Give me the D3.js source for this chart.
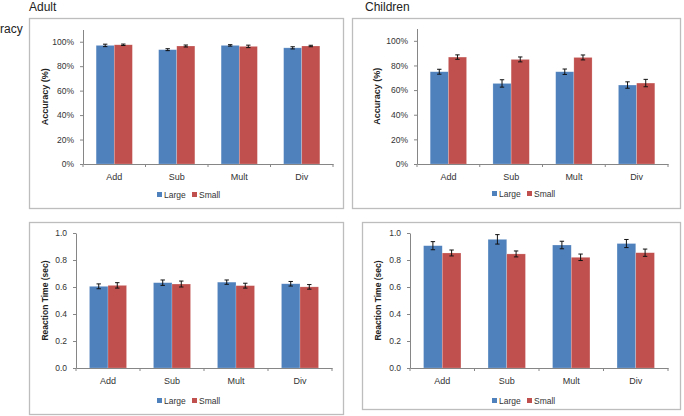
<!DOCTYPE html>
<html><head><meta charset="utf-8">
<script src="https://cdn.jsdelivr.net/npm/d3@7"></script>
<style>
body{margin:0;background:#fff;}
text{font-family:"Liberation Sans",Arial,sans-serif;}
</style></head>
<body><svg id="c" width="684" height="416"></svg>
<script>
const categories = ["Add","Sub","Mult","Div"];
const seriesNames = ["Large","Small"];
const colors = ["#4f81bd","#c0504d"];

const adultAccLarge = [0.970,0.935,0.970,0.950];
const adultAccSmall = [0.975,0.965,0.962,0.965];
const adultAccErrL  = [0.010,0.008,0.006,0.009];
const adultAccErrS  = [0.006,0.008,0.010,0.006];

const childAccLarge = [0.749,0.654,0.749,0.641];
const childAccSmall = [0.868,0.849,0.865,0.657];
const childAccErrL  = [0.020,0.030,0.022,0.026];
const childAccErrS  = [0.018,0.020,0.020,0.030];

const adultRtLarge = [0.605,0.632,0.636,0.624];
const adultRtSmall = [0.612,0.622,0.610,0.601];
const adultRtErrL  = [0.018,0.020,0.016,0.017];
const adultRtErrS  = [0.020,0.022,0.018,0.017];

const childRtLarge = [0.906,0.953,0.911,0.922];
const childRtSmall = [0.852,0.845,0.820,0.854];
const childRtErrL  = [0.030,0.035,0.028,0.030];
const childRtErrS  = [0.022,0.022,0.024,0.027];

const accTicks = [0,0.2,0.4,0.6,0.8,1.0];
const rtTicks = [0,0.2,0.4,0.6,0.8,1.0];

const svg = d3.select("#c");

svg.append("text").attr("x",29).attr("y",11).attr("font-size",12).attr("fill","#222").text("Adult");
svg.append("text").attr("x",365).attr("y",11).attr("font-size",12).attr("fill","#222").text("Children");
svg.append("text").attr("x",0).attr("y",33).attr("font-size",12).attr("fill","#222").text("racy");

function panel(o){
  const g = svg.append("g");
  g.append("rect").attr("x",o.fx+0.5).attr("y",o.fy+0.5).attr("width",o.fw).attr("height",o.fh)
    .attr("fill","#fff").attr("stroke","#bdbdbd").attr("stroke-width",1.3);
  const x = d3.scaleBand().domain(categories).range([o.x0,o.x1]).paddingInner(0.42).paddingOuter(0.21);
  const xs = d3.scaleBand().domain(seriesNames).range([0,x.bandwidth()]);
  const y = d3.scaleLinear().domain(o.domain).range([o.y0,o.yTop]);
  const vals=[o.large,o.small], errs=[o.errL,o.errS];
  seriesNames.forEach((s,si)=>{
    g.selectAll(null).data(categories).enter().append("rect")
      .attr("x",c=>x(c)+xs(s)).attr("width",xs.bandwidth())
      .attr("y",(c,i)=>y(vals[si][i])).attr("height",(c,i)=>y(0)-y(vals[si][i]))
      .attr("fill",colors[si]).attr("stroke","rgba(255,255,255,0.35)").attr("stroke-width",0.6);
    categories.forEach((c,i)=>{
      const cx = x(c)+xs(s)+xs.bandwidth()/2;
      const v = vals[si][i], e = errs[si][i];
      g.append("line").attr("x1",cx).attr("x2",cx).attr("y1",y(v-e)).attr("y2",y(v+e)).attr("stroke","#111").attr("stroke-width",1);
      [v-e,v+e].forEach(t=>g.append("line").attr("x1",cx-2.2).attr("x2",cx+2.2).attr("y1",y(t)).attr("y2",y(t)).attr("stroke","#111").attr("stroke-width",1));
    });
  });
  const ya = g.append("g").attr("transform",`translate(${o.x0},0)`)
    .call(d3.axisLeft(y).tickValues(o.ticks).tickFormat(o.fmt).tickSize(3).tickSizeOuter(0));
  ya.select(".domain").attr("stroke","#868686");
  ya.selectAll(".tick line").attr("stroke","#868686");
  ya.selectAll("text").attr("font-size",8.5).attr("fill","#333").attr("dx","-3");
  const xa = g.append("g").attr("transform",`translate(0,${o.y0})`)
    .call(d3.axisBottom(x).tickSize(0).tickSizeOuter(0));
  xa.select(".domain").attr("stroke","#868686");
  xa.selectAll("text").attr("font-size",9).attr("fill","#333").attr("dy","1.4em");
  const bounds = d3.range(categories.length+1).map(i=>o.x0+i*(o.x1-o.x0)/categories.length);
  g.selectAll(null).data(bounds).enter().append("line")
    .attr("x1",d=>d).attr("x2",d=>d).attr("y1",o.y0).attr("y2",o.y0+3).attr("stroke","#868686");
  g.append("text").attr("transform",`translate(${o.lx},${(o.y0+o.yTop)/2}) rotate(-90)`)
    .attr("text-anchor","middle").attr("font-size",o.lfs).attr("font-weight","bold").attr("fill","#222").text(o.ylabel);
  const lg = g.append("g").attr("transform",`translate(${o.legX},${o.legY})`);
  seriesNames.forEach((s,i)=>{
    const off = i*35;
    lg.append("rect").attr("x",off).attr("y",-3).attr("width",5).attr("height",5).attr("fill",colors[i]);
    lg.append("text").attr("x",off+7).attr("y",2.5).attr("font-size",8.5).attr("fill","#333").text(s);
  });
}

const pct = d3.format(".0%"), one = d3.format(".1f");

panel({fx:29,fy:18,fw:314,fh:190,x0:83,x1:333,y0:164,yTop:29.5,domain:[0,1.1],ticks:accTicks,fmt:pct,
  large:adultAccLarge,small:adultAccSmall,errL:adultAccErrL,errS:adultAccErrS,lx:48,lfs:9,ylabel:"Accuracy (%)",legX:157,legY:195});
panel({fx:352,fy:18,fw:328,fh:190,x0:417,x1:668,y0:164,yTop:28.5,domain:[0,1.1],ticks:accTicks,fmt:pct,
  large:childAccLarge,small:childAccSmall,errL:childAccErrL,errS:childAccErrS,lx:380,lfs:9,ylabel:"Accuracy (%)",legX:492,legY:194});
panel({fx:29,fy:222,fw:314,fh:192,x0:76,x1:332,y0:368,yTop:233,domain:[0,1.0],ticks:rtTicks,fmt:one,
  large:adultRtLarge,small:adultRtSmall,errL:adultRtErrL,errS:adultRtErrS,lx:48,lfs:8.5,ylabel:"Reaction Time (sec)",legX:157,legY:401});
panel({fx:362,fy:222,fw:318,fh:187,x0:410,x1:668,y0:368,yTop:233,domain:[0,1.0],ticks:rtTicks,fmt:one,
  large:childRtLarge,small:childRtSmall,errL:childRtErrL,errS:childRtErrS,lx:381,lfs:8.5,ylabel:"Reaction Time (sec)",legX:492,legY:401});
</script></body></html>
